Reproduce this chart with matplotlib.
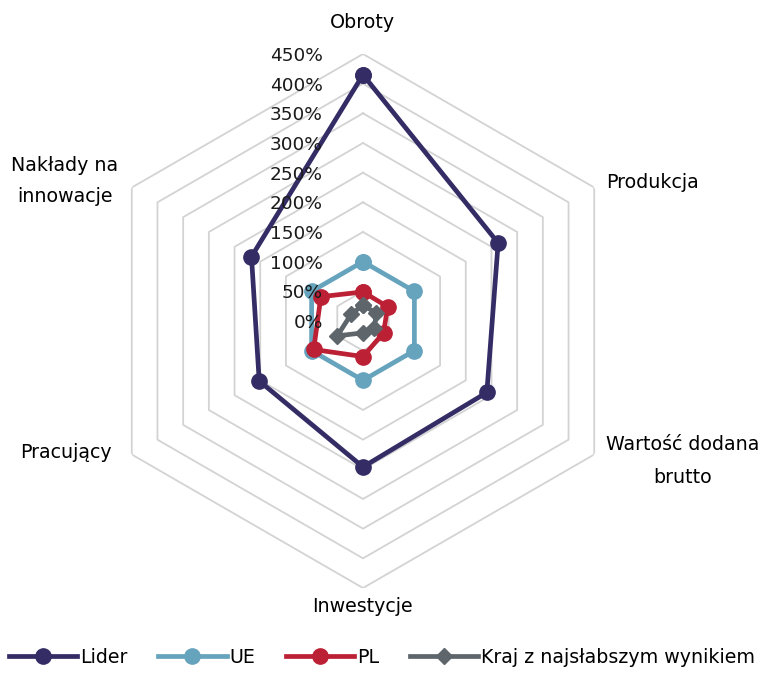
import numpy as np
import matplotlib
matplotlib.use('Agg')
import matplotlib.pyplot as plt

categories = ['Obroty', 'Produkcja', 'Wartość dodana\nbrutto', 'Inwestycje', 'Pracujący', 'Nakłady na\ninnowacje']
lider = [415, 263, 241, 246, 202, 217]
ue = [100, 100, 100, 100, 100, 100]
pl = [49, 48, 40, 60, 96, 82]
kraj = [27, 26, 22, 20, 50, 23]
levels = [0, 50, 100, 150, 200, 250, 300, 350, 400, 450]
level_labels = [f'{v}%' for v in levels]

plt.rcParams['font.family'] = ['DejaVu Sans']
plt.rcParams['font.size'] = 13.7

fig = plt.figure(figsize=(7.64, 6.75), dpi=100)
ax = fig.add_axes([96/764, 87/675, 534/764, 534/675], projection='polar')
ax.set_theta_zero_location('N')
ax.set_theta_direction(-1)

angles = np.linspace(0, 2*np.pi, len(categories), endpoint=False)
closed = np.append(angles, angles[0])

# hexagon grid
for v in levels[1:]:
    ax.plot(closed, [v]*len(closed), color='#d3d3d3', lw=1.3, zorder=1)

def close(vals):
    return list(vals) + [vals[0]]

ax.plot(closed, close(lider), color='#342c65', lw=3.4, marker='o', ms=11, label='Lider', zorder=3)
ax.plot(closed, close(ue), color='#66a3bd', lw=3.4, marker='o', ms=11, label='UE', zorder=4)
ax.plot(closed, close(pl), color='#bc2035', lw=3.4, marker='o', ms=11, label='PL', zorder=5)
ax.plot(closed, close(kraj), color='#5e666c', lw=3.4, marker='D', ms=8, label='Kraj z najsłabszym wynikiem', zorder=6)

ax.set_ylim(0, 450)
ax.set_xticks([])
ax.set_yticks([])
ax.grid(False)
ax.spines['polar'].set_visible(False)
ax.patch.set_visible(False)

for v, lab in zip(levels, level_labels):
    ax.annotate(lab, xy=(0, v), xytext=(-29, -1.5), textcoords='offset points',
                ha='right', va='center', fontsize=13.3, color='#1a1a1a', zorder=7)

fig.text(362/764, 1 - 22/675, categories[0], ha='center', va='center')
fig.text(606/764, 1 - 183/675, categories[1], ha='left', va='center')
fig.text(683/764, 1 - 461/675, categories[2], ha='center', va='center', linespacing=1.95)
fig.text(362/764, 1 - 606/675, categories[3], ha='center', va='center')
fig.text(66/764, 1 - 453/675, categories[4], ha='center', va='center')
fig.text(65/764, 1 - 181/675, categories[5], ha='center', va='center', linespacing=1.75)

fig.legend(loc='lower center', bbox_to_anchor=(0.5, -0.005), ncol=4, frameon=False,
           handlelength=3.6, handletextpad=0.15, columnspacing=1.6, fontsize=13.7, borderaxespad=0.2)

fig.savefig('out.png', dpi=100)
